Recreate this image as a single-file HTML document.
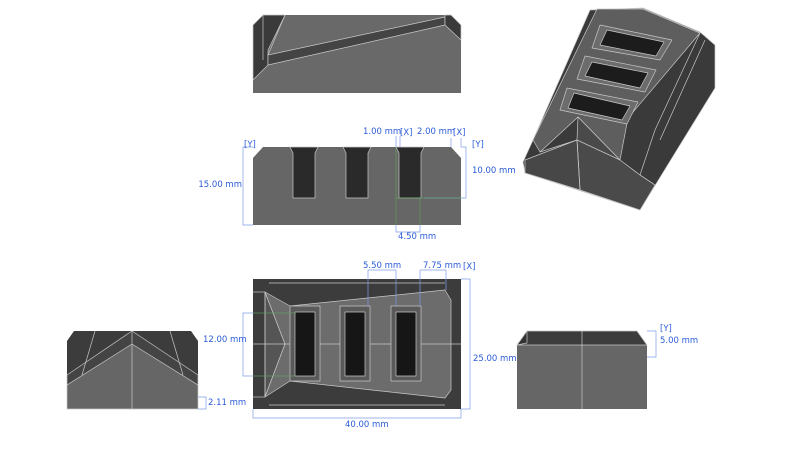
<!DOCTYPE html>
<html><head><meta charset="utf-8"><style>
html,body{margin:0;padding:0;background:#fff;width:800px;height:450px;overflow:hidden}
svg{display:block}
text{font-family:"DejaVu Sans","Liberation Sans",sans-serif;font-size:8.5px;fill:#2a5bd7}
</style></head><body>
<svg width="800" height="450" viewBox="0 0 800 450" xmlns="http://www.w3.org/2000/svg">
<g stroke="#c8c8c8" stroke-width="0.7" stroke-linejoin="round">
<!-- TOP VIEW -->
<polygon points="263,15 451,15 461,25 461,93 253,93 253,25" fill="#696969" stroke="none"/>
<polygon points="253,25 263,15 285,15 268,50 268,65 253,80" fill="#3a3a3a"/>
<polygon points="268,55 445,17 445,25 268,65" fill="#444"/>
<polygon points="445,15 451,15 461,25 461,40 445,25" fill="#3a3a3a"/>
<line x1="263" y1="15" x2="263" y2="60"/>
<line x1="285" y1="15" x2="268" y2="55"/>
<!-- FRONT VIEW -->
<polygon points="263,147 451,147 461,158 461,225 253,225 253,158" fill="#666" stroke="none"/>
<g fill="#2a2a2a">
<polygon points="290,147 318,147 315,153 315,198 293,198 293,153"/>
<polygon points="343,147 371,147 368,153 368,198 346,198 346,153"/>
<polygon points="396,147 424,147 421,153 421,198 399,198 399,153"/>
</g>
<!-- BOTTOM VIEW -->
<rect x="253" y="279" width="208" height="130" fill="#3c3c3c" stroke="none"/>
<polygon points="265,292 285,344 265,397" fill="#555"/>
<polygon points="265,292 290,306 445,290 451,300 451,390 445,398 290,381 265,397 285,344" fill="#6c6c6c"/>
<line x1="253" y1="344" x2="461" y2="344"/>
<line x1="265" y1="292" x2="265" y2="397"/>
<line x1="253" y1="292" x2="265" y2="292"/><line x1="253" y1="397" x2="265" y2="397"/>
<line x1="269" y1="283" x2="445" y2="283"/><line x1="269" y1="405" x2="445" y2="405"/>
<g fill="#5a5a5a">
<rect x="290" y="306" width="30" height="75"/><rect x="340" y="306" width="30" height="75"/><rect x="391" y="306" width="30" height="75"/>
</g>
<g fill="#161616">
<rect x="295" y="312" width="20" height="64"/><rect x="345" y="312" width="20" height="64"/><rect x="396" y="312" width="20" height="64"/>
</g>
<!-- LEFT VIEW -->
<polygon points="74,331 191,331 198,341 198,409 67,409 67,341" fill="#3c3c3c" stroke="none"/>
<polygon points="67,385 132,341 198,385 198,409 67,409" fill="#666"/>
<polygon points="67,375 132,331 198,375 198,385 132,344 67,385" fill="#444"/>
<line x1="132" y1="331" x2="132" y2="409"/>
<line x1="95" y1="331" x2="82" y2="375"/><line x1="170" y1="331" x2="183" y2="375"/>
<!-- RIGHT VIEW -->
<polygon points="527,331 637,331 647,345 647,409 517,409 517,345" fill="#666" stroke="none"/>
<polygon points="527,331 637,331 647,345 517,345" fill="#3c3c3c"/>
<polygon points="517,345 527,331 527,343" fill="#333"/>
<line x1="582" y1="331" x2="582" y2="409"/>
<!-- ISO -->
<polygon points="590,10 643,8 700,32 715,45 715,88 640,210 525,173 523,162 533,140" fill="#3a3a3a"/>
<polygon points="597,9 643,9 700,33 628,118 620,160 578,117 540,152 533,140" fill="#5e5e5e"/>
<polygon points="600,25 672,40 660,60 592,48" fill="#6c6c6c"/><polygon points="607,30 664,42 656,56 600,45" fill="#1c1c1c"/>
<polygon points="585,56 656,70 645,92 577,79" fill="#6c6c6c"/><polygon points="592,62 648,73 640,88 585,76" fill="#1c1c1c"/>
<polygon points="567,88 638,102 627,124 560,110" fill="#6c6c6c"/><polygon points="574,93 630,106 622,120 568,108" fill="#1c1c1c"/>
<polygon points="578,117 620,160 640,175 655,185 640,210 580,190 577,140" fill="#4a4a4a"/>
<polygon points="525,160 577,140 580,190 525,173" fill="#474747"/>
<polyline points="700,33 655,130 640,175 655,185" fill="none"/>
<polyline points="705,40 660,140" fill="none"/>
<polyline points="540,152 577,140 620,160" fill="none"/>
<line x1="577" y1="140" x2="580" y2="190"/>
</g>
<!-- dimension lines -->
<g stroke="#7f9ce6" stroke-width="0.7" fill="none">
<polyline points="253,147 243,147 243,225 253,225"/>
<line x1="396" y1="136" x2="396" y2="147"/><line x1="400" y1="136" x2="400" y2="147"/>
<line x1="451" y1="138" x2="451" y2="147"/><line x1="461" y1="138" x2="461" y2="147"/>
<polyline points="461,147 466,147 466,198 424,198"/>
<polyline points="396,225 396,232 420,232 420,225"/>
<polyline points="461,279 470,279 470,409 461,409"/>
<polyline points="253,409 253,418 461,418 461,409"/>
<polyline points="253,313 243,313 243,376 253,376"/>
<polyline points="198,397 206,397 206,409 198,409"/>
<polyline points="647,331 656,331 656,357 647,357"/>
<line x1="368" y1="270" x2="368" y2="306"/><line x1="396" y1="270" x2="396" y2="306"/>
<line x1="420" y1="270" x2="420" y2="306"/><line x1="446" y1="270" x2="446" y2="290"/>
<line x1="368" y1="270" x2="396" y2="270"/><line x1="420" y1="270" x2="446" y2="270"/>
</g>
<g stroke="#5fa860" stroke-width="0.7" fill="none" opacity="0.8">
<line x1="396" y1="198" x2="461" y2="198"/><line x1="396" y1="147" x2="396" y2="225"/><line x1="420" y1="198" x2="420" y2="225"/>
<line x1="253" y1="313" x2="295" y2="313"/><line x1="253" y1="376" x2="295" y2="376"/>
</g>
<text x="244" y="147">[Y]</text>
<text x="242" y="187" text-anchor="end">15.00 mm</text>
<text x="363" y="134">1.00 mm</text><text x="400" y="135">[X]</text>
<text x="417" y="134">2.00 mm</text><text x="453" y="135">[X]</text>
<text x="472" y="147">[Y]</text>
<text x="472" y="173">10.00 mm</text>
<text x="398" y="239">4.50 mm</text>
<text x="363" y="268">5.50 mm</text>
<text x="423" y="268">7.75 mm</text><text x="463" y="269">[X]</text>
<text x="203" y="342">12.00 mm</text>
<text x="473" y="361">25.00 mm</text>
<text x="345" y="427">40.00 mm</text>
<text x="208" y="405">2.11 mm</text>
<text x="660" y="331">[Y]</text>
<text x="660" y="343">5.00 mm</text>
</svg>
</body></html>
